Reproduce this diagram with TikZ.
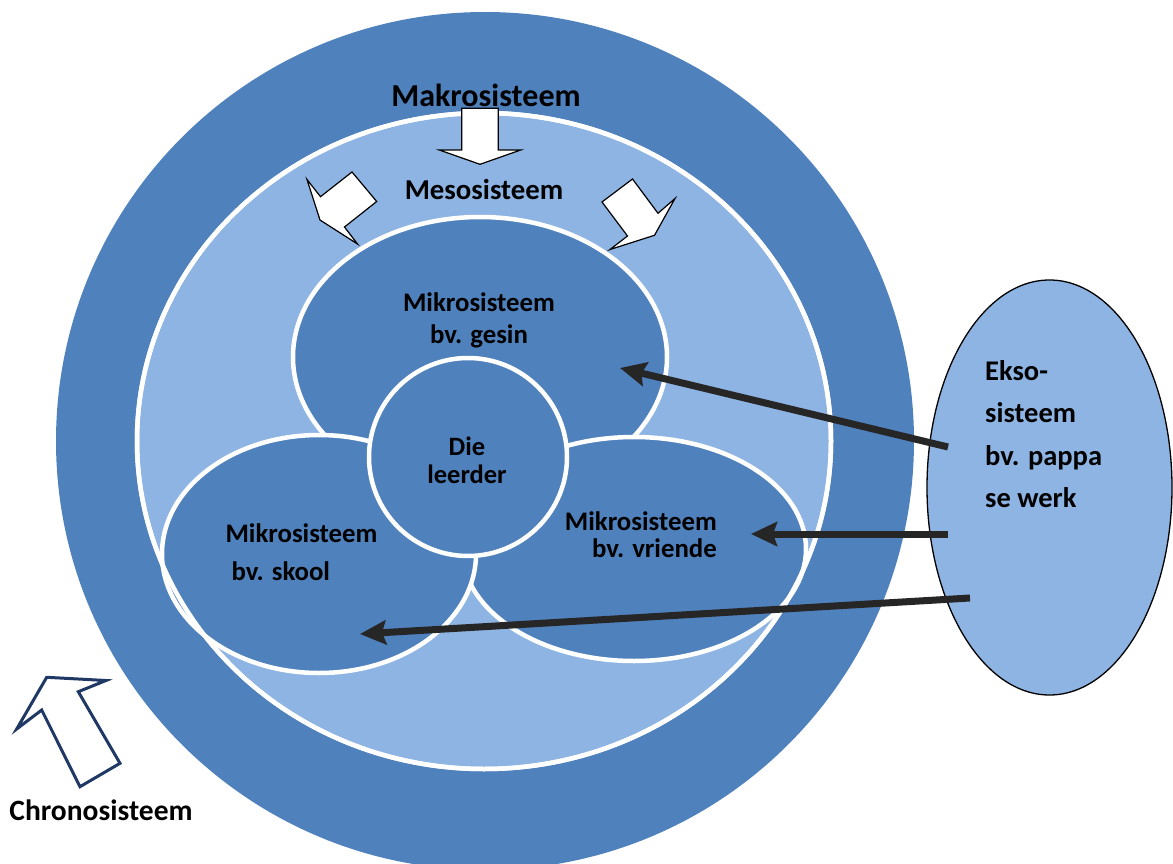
\documentclass[tikz,border=0pt]{standalone}
\usepackage{fontspec}
\setmainfont{Carlito}
\usetikzlibrary{arrows.meta,shapes.geometric}
\definecolor{darkblue}{HTML}{4F81BD}
\definecolor{lightblue}{HTML}{8EB4E3}
\definecolor{navyline}{HTML}{1F3864}
\definecolor{arrowgray}{HTML}{262626}
\begin{document}
\begin{tikzpicture}[x=1pt,y=-1pt,
  micro/.style={ellipse, fill=darkblue, draw=white, line width=4.5pt, inner sep=0pt},
  lbl/.style={inner sep=0pt, font=\bfseries},
  blockarrow/.style={fill=white, draw=black, line width=1.2pt, line join=miter},
  conn/.style={draw=arrowgray, line width=7pt, -{Stealth[length=26pt,width=24pt,inset=4pt]}}]
\useasboundingbox (0,0) rectangle (1173,864);
\begin{scope}
\clip (0,0) rectangle (1173,864);
% macro system
\node[circle, fill=darkblue, minimum size=858pt, inner sep=0pt] (makro) at (485,441) {};
\end{scope}
% meso system
\node[ellipse, fill=lightblue, draw=white, line width=4.5pt, minimum width=694pt, minimum height=656pt, inner sep=0pt] (meso) at (484,441) {};
% micro systems
\node[micro, minimum width=374pt, minimum height=280pt] (gesin) at (480,357) {};
\node[micro, minimum width=344pt, minimum height=224pt] (vriende) at (634,549) {};
\node[micro, minimum width=314pt, minimum height=238pt] (skool) at (319,554) {};
\node[micro, minimum width=198pt, minimum height=198pt] (leerder) at (468,457) {};
% meso border on top
\node[ellipse, draw=white, line width=4.5pt, minimum width=694pt, minimum height=656pt, inner sep=0pt] (mesoborder) at (484,441) {};
% block arrows
\draw[blockarrow] (461.7,108.3) -- (498.3,108.3) -- (498.3,150) -- (520.7,150) -- (480,164.3) -- (439.3,150) -- (461.7,150) -- cycle;
\draw[blockarrow] (352,172) -- (376.7,201.5) -- (344.5,227) -- (357.5,244) -- (320,220) -- (307,179.5) -- (320.5,196.7) -- cycle;
\draw[blockarrow] (632.5,179) -- (658,213.3) -- (675,198.5) -- (654.5,235.3) -- (610,249.5) -- (627.5,236) -- (602,202) -- cycle;
% chrono arrow
\draw[fill=white, draw=navyline, line width=3pt, line join=miter]
  (46.7,677.3) -- (106,680.5) -- (78.3,691.7) -- (120,763.3) -- (80,786.7) -- (41.7,710) -- (16.7,729) -- cycle;
% exo system
\node[ellipse, fill=lightblue, draw=black, line width=1.3pt, minimum width=245pt, minimum height=415pt, inner sep=0pt] (ekso) at (1049.5,487.5) {};
% connectors
\coordinate (t1) at (948,447);
\coordinate (h1) at (620,368);
\coordinate (t2) at (948,534);
\coordinate (h2) at (751,534);
\coordinate (t3) at (970,598);
\coordinate (h3) at (360,634);
\draw[conn] (t1) -- (h1);
\draw[conn] (t2) -- (h2);
\draw[conn] (t3) -- (h3);
% labels
\node[lbl, font=\bfseries\fontsize{32}{38}\selectfont] (makrotxt) at (486,95) {Makrosisteem};
\node[lbl, font=\bfseries\fontsize{28.8}{34}\selectfont] (mesotxt) at (484,190) {Mesosisteem};
\node[lbl, align=center, font=\bfseries\fontsize{26.8}{32}\selectfont] (gesintxt) at (479,320) {Mikrosisteem\\bv. gesin};
\node[lbl, align=center, font=\bfseries\fontsize{26.5}{28}\selectfont] (leerdertxt) at (467,460) {Die\\leerder};
\node[lbl, align=left, font=\bfseries\fontsize{26.8}{38}\selectfont] (skooltxt) at (301.5,552) {Mikrosisteem\\\hspace*{6pt}bv. skool};
\node[lbl, align=right, font=\bfseries\fontsize{26.8}{27}\selectfont, anchor=east] (vriendetxt) at (717,535) {Mikrosisteem\\bv. vriende};
\node[lbl, align=left, font=\bfseries\fontsize{28.5}{42.3}\selectfont, anchor=west] (eksotxt) at (985,434) {Ekso-\\sisteem\\bv. pappa\\se werk};
\node[lbl, font=\bfseries\fontsize{29.5}{35}\selectfont] (chronotxt) at (101,810) {Chronosisteem};
\end{tikzpicture}
\end{document}
